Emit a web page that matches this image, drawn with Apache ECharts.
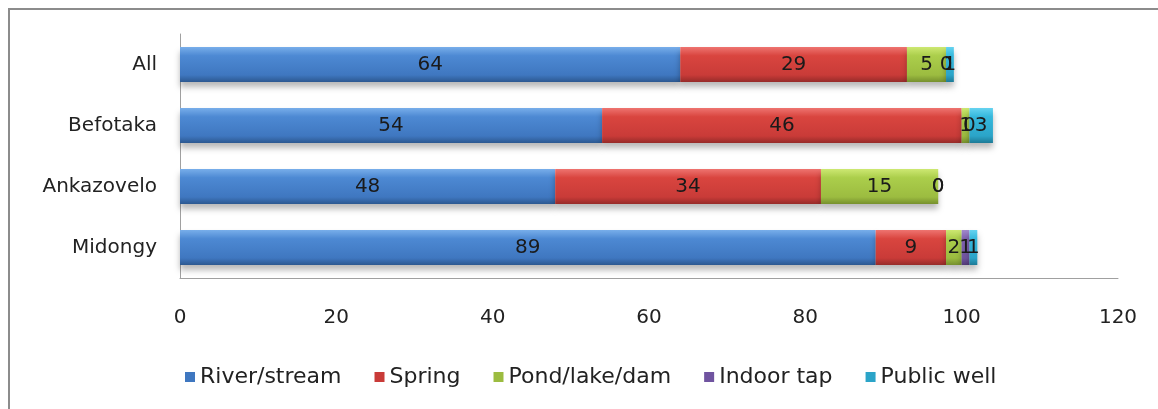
<!DOCTYPE html>
<html>
<head>
<meta charset="utf-8">
<script src="https://cdn.jsdelivr.net/npm/echarts@6/dist/echarts.min.js"></script>
<style>
  html, body { margin: 0; padding: 0; background: #fff; overflow: hidden; width: 1158px; height: 409px; }
  #frame { position: absolute; left: 8px; top: 8px; width: 1250px; height: 460px; border: 2px solid #8c8c8c; box-sizing: border-box; }
  #chart { position: absolute; left: 0; top: 0; width: 1158px; height: 409px; }
</style>
</head>
<body>
<div id="frame"></div>
<div id="chart"></div>
<script>
// Categories, bottom to top
const categories = ['Midongy', 'Ankazovelo', 'Befotaka', 'All'];
const seriesNames = ['River/stream', 'Spring', 'Pond/lake/dam', 'Indoor tap', 'Public well'];
// Share of households by water source (%)
const riverStream = [89, 48, 54, 64];
const spring      = [9, 34, 46, 29];
const pondLakeDam = [2, 15, 1, 5];
const indoorTap   = [1, 0, 0, 0];
const publicWell  = [1, 0, 3, 1];
const xTicks = [0, 20, 40, 60, 80, 100, 120];

const values = [riverStream, spring, pondLakeDam, indoorTap, publicWell];
// light top, body, dark bottom edge
const palettes = [
  ['#78aeea', '#4d89d3', '#3f77c0', '#2c5890'],
  ['#ee7470', '#d9453f', '#c93b38', '#962b29'],
  ['#cde872', '#abce4b', '#9cbc40', '#76902e'],
  ['#a28acb', '#7f61b0', '#7054a0', '#523b78'],
  ['#66d3f0', '#35b8dc', '#2ba4c8', '#1d7a96']
];
const legendColors = ['#3f77c0', '#c93b38', '#9cbc40', '#7054a0', '#2ba4c8'];

function grad(p) {
  return new echarts.graphic.LinearGradient(0, 0, 0, 1, [
    { offset: 0, color: p[0] },
    { offset: 0.25, color: p[1] },
    { offset: 0.8, color: p[2] },
    { offset: 1, color: p[3] }
  ]);
}

const font = '"DejaVu Sans", sans-serif';
const chart = echarts.init(document.getElementById('chart'));
chart.setOption({
  animation: false,
  textStyle: { fontFamily: font },
  grid: { left: 180, right: 40, top: 34, bottom: 131 },
  legend: {
    bottom: 16,
    left: 180,
    icon: 'rect',
    itemWidth: 10,
    itemHeight: 10,
    itemGap: 33,
    textStyle: { fontSize: 22, color: '#222', fontFamily: font },
    data: seriesNames.map((n, i) => ({ name: n, itemStyle: { color: legendColors[i] } }))
  },
  xAxis: {
    type: 'value',
    min: 0,
    max: 120,
    interval: 20,
    axisLine: { show: true, lineStyle: { color: '#a0a0a0', width: 1 } },
    axisTick: { show: false },
    splitLine: { show: false },
    axisLabel: {
      margin: 30,
      fontSize: 20,
      color: '#222',
      fontFamily: font,
      formatter: v => xTicks.includes(v) ? String(v) : ''
    }
  },
  yAxis: {
    type: 'category',
    data: categories,
    axisLine: { show: true, lineStyle: { color: '#a0a0a0', width: 1 } },
    axisTick: { show: false },
    axisLabel: { margin: 23, fontSize: 20, color: '#222', fontFamily: font }
  },
  series: seriesNames.map((name, i) => ({
    name: name,
    type: 'bar',
    stack: 'total',
    barWidth: 35,
    data: values[i],
    itemStyle: {
      color: grad(palettes[i]),
      shadowColor: 'rgba(0,0,0,0.28)',
      shadowBlur: 6,
      shadowOffsetY: 5
    },
    label: {
      show: true,
      position: 'inside',
      fontSize: 20,
      color: '#1a1a1a',
      fontFamily: font
    }
  }))
});
</script>
</body>
</html>
